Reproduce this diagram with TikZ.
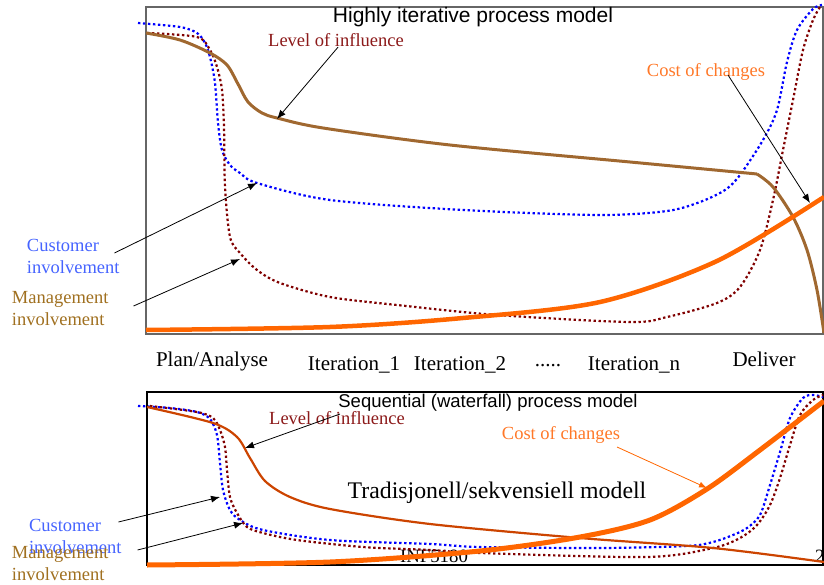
\documentclass[tikz,border=0pt]{standalone}
\usepackage{fontspec}
\setmainfont{Liberation Serif}
\newfontfamily\titlefont{Liberation Sans}
\usepackage{xcolor}
\usepackage{tikz}
\usetikzlibrary{arrows}
\usetikzlibrary{arrows.meta}
\usetikzlibrary{calc}
\usetikzlibrary{positioning}

\definecolor{influencebrown}{RGB}{160,104,48}
\definecolor{mgmtred}{RGB}{128,0,0}
\definecolor{custblue}{RGB}{0,0,255}
\definecolor{costorange}{RGB}{255,102,0}
\definecolor{seqred}{RGB}{204,68,0}
\definecolor{labelred}{RGB}{140,26,26}
\definecolor{labelblue}{RGB}{70,100,255}
\definecolor{labelbrown}{RGB}{160,112,32}
\definecolor{labelorange}{RGB}{255,120,40}

\newcommand{\labelsize}{\fontsize{18.5}{22}\selectfont}
\newcommand{\phasesize}{\fontsize{21}{24}\selectfont}

\begin{document}
\begin{tikzpicture}[x=1pt, y=-1pt,
    txt/.style={inner sep=0pt, outer sep=0pt},
    dotline/.style={line width=2.2pt, dash pattern=on 2.4pt off 2.6pt},
    pointer/.style={-{Latex[length=9pt,width=7pt]}, line width=0.8pt}]

  \useasboundingbox (0,0) rectangle (824,585);

  % --- upper chart: highly iterative ---
  \draw [gray!80!black, line width=1.4pt] (146,7) rectangle (823,334);

  \node [txt, anchor=base] (itertitle) at (473,23)
    {\titlefont\fontsize{21}{24}\selectfont Highly iterative process model};

  \draw [custblue, dotline] plot [smooth] coordinates
    {(138,23) (180,27) (197,33) (205,43) (210,57) (215,83) (218,123)
      (222,150) (230,165) (240,173) (257,183) (330,200) (463,210)
      (600,215) (667,211) (700,202) (725,190) (740,175) (763,140)
      (777,110) (787,62) (797,30) (813,9) (822,5)};

  \draw [mgmtred, dotline] plot [smooth] coordinates
    {(147,33) (197,37) (210,50) (217,67) (222,90) (224,127) (225,187)
      (230,237) (240,253) (257,270) (280,283) (330,297) (397,305)
      (497,315) (630,322) (667,317) (717,303) (740,287) (760,250)
      (773,200) (783,150) (793,100) (803,50) (813,20) (820,7)};

  \draw [influencebrown, line width=3pt] plot [smooth] coordinates
    {(146,33) (180,40) (210,53) (227,65) (238,84) (248,102) (262,113)
      (277,118) (323,128) (450,145) (630,162) (757,174)};
  \draw [influencebrown, line width=3pt] plot [smooth] coordinates
    {(757,174) (773,187) (793,217) (807,250) (817,290) (824,333)};

  \draw [costorange, line width=4.5pt] plot [smooth] coordinates
    {(146,330) (330,327) (463,318) (600,302) (717,261) (824,197)};

  \coordinate (iterinfl) at (277,119);
  \coordinate (itercost) at (810,203);
  \coordinate (itercust) at (257,183);
  \coordinate (itermgmt) at (240,259);

  \node [txt, anchor=base, labelred, font=\labelsize] (iterinfllabel) at (336,47)
    {Level of influence};
  \node [txt, anchor=base, labelorange, font=\labelsize] (itercostlabel) at (706,77)
    {Cost of changes};
  \node [txt, anchor=west, align=left, labelblue, font=\labelsize] (itercustlabel)
    at (27,256) {Customer\\involvement};
  \node [txt, anchor=west, align=left, labelbrown, font=\labelsize] (itermgmtlabel)
    at (12,309) {Management\\involvement};

  \draw [pointer] ($(iterinfllabel.south)+(2,0)$) -- (iterinfl);
  \draw [pointer] ($(itercostlabel.south)+(22,-6)$) -- (itercost);
  \draw [pointer] ($(itercustlabel.east)+(-5,-3)$) -- (itercust);
  \draw [pointer] ($(itermgmtlabel.east)+(25,-3)$) -- (itermgmt);

  % phases
  \node [txt, anchor=base] (planphase) at (212,366) {\phasesize Plan/Analyse};
  \node [txt, anchor=base] (iterone) at (354,370) {\phasesize Iteration\_1};
  \node [txt, anchor=base] (itertwo) at (460,370) {\phasesize Iteration\_2};
  \node [txt, anchor=base] (iterdots) at (548,366) {\phasesize .....};
  \node [txt, anchor=base] (itern) at (634,370) {\phasesize Iteration\_n};
  \node [txt, anchor=base] (deliverphase) at (764,366) {\phasesize Deliver};

  % --- lower chart: sequential ---
  \node [txt, anchor=base] (footer) at (434,562) {\fontsize{18.8}{22}\selectfont INF5180};
  \node [txt, anchor=base west] (pagenum) at (815,562) {\fontsize{18.8}{22}\selectfont 2};

  \draw [black, line width=1.2pt] (147,392) rectangle (823,565);

  \node [txt, anchor=base] (seqtitle) at (488,407)
    {\titlefont\fontsize{18.5}{22}\selectfont Sequential (waterfall) process model};
  \node [txt, anchor=base] (seqmodel) at (497,498)
    {\fontsize{23.8}{28}\selectfont Tradisjonell/sekvensiell modell};

  \draw [custblue, dotline] plot [smooth] coordinates
    {(138,406) (170,408) (197,412) (210,419) (217,435) (220,463)
      (223,490) (230,510) (240,520) (263,530) (330,540) (430,544)
      (480,547) (600,548) (687,546) (713,542) (733,535) (747,528)
      (760,515) (770,485) (780,452) (790,418) (803,398) (813,395)
      (823,397)};

  \draw [mgmtred, dotline] plot [smooth] coordinates
    {(150,406) (197,412) (213,418) (220,430) (225,447) (227,470)
      (230,497) (237,513) (247,527) (263,533) (297,540) (363,547)
      (430,550) (480,553) (647,557) (713,548) (740,538) (757,525)
      (770,505) (780,478) (790,445) (800,415) (813,400) (823,395)};

  \draw [seqred, line width=2.2pt] plot [smooth] coordinates
    {(147,407) (213,423) (237,437) (250,458) (265,481) (290,497)
      (330,509) (430,524) (580,538) (713,548) (824,562)};

  \draw [costorange, line width=5pt] plot [smooth] coordinates
    {(147,565) (330,562) (480,551) (580,537) (650,520) (707,489)
      (760,450) (824,401)};

  \coordinate (seqinfl) at (245,448);
  \coordinate (seqcost) at (707,488);
  \coordinate (seqcust) at (220,497);
  \coordinate (seqmgmt) at (243,523);

  \node [txt, anchor=base, labelred, font=\labelsize] (seqinfllabel) at (337,424)
    {Level of influence};
  \node [txt, anchor=base, labelorange, font=\labelsize] (seqcostlabel) at (561,439)
    {Cost of changes};
  \node [txt, anchor=west, align=left, labelblue, font=\labelsize] (seqcustlabel)
    at (29,536) {Customer\\involvement};
  \node [txt, anchor=west, align=left, labelbrown, font=\labelsize] (seqmgmtlabel)
    at (12,564) {Management\\involvement};

  \draw [pointer] (340,414) -- (seqinfl);
  \draw [costorange, -{Latex[length=8pt,width=6pt]}, line width=0.8pt]
    ($(seqcostlabel.south)+(56,4)$) -- (seqcost);
  \draw [pointer] ($(seqcustlabel.east)+(-3,-14)$) -- (seqcust);
  \draw [pointer] ($(seqmgmtlabel.east)+(29,-14)$) -- (seqmgmt);

\end{tikzpicture}
\end{document}
